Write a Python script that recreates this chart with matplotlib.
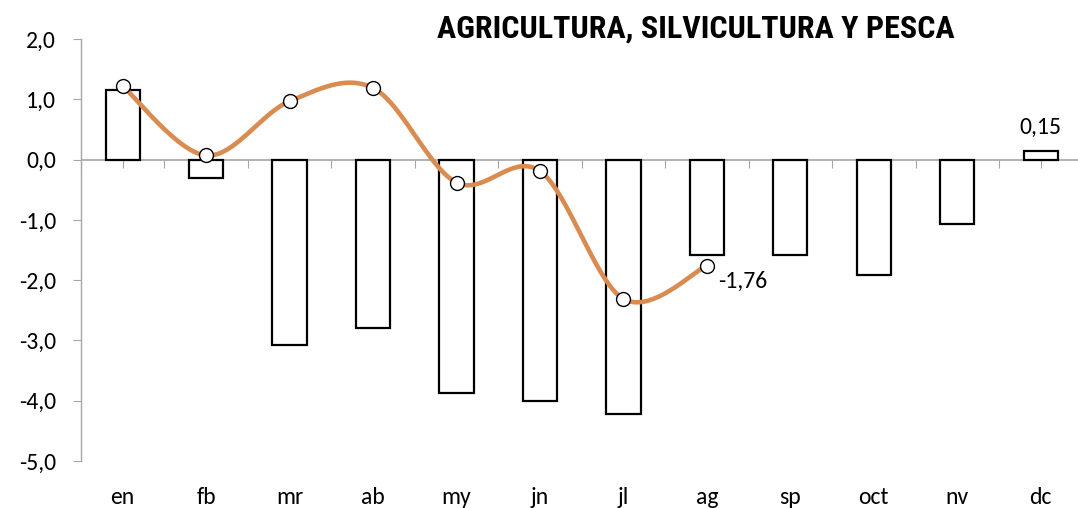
import numpy as np
import matplotlib
matplotlib.use("Agg")
import matplotlib.pyplot as plt
from matplotlib.ticker import FuncFormatter

months = ["en", "fb", "mr", "ab", "my", "jn", "jl", "ag", "sp", "oct", "nv", "dc"]
bar_values = [1.15, -0.31, -3.07, -2.79, -3.87, -4.00, -4.22, -1.59, -1.58, -1.91, -1.06, 0.15]
line_values = [1.22, 0.07, 0.97, 1.19, -0.38, -0.19, -2.31, -1.76]
title = "AGRICULTURA, SILVICULTURA Y PESCA"

ORANGE = "#D98B50"
GRAY = "#A6A6A6"
FS = 17

plt.rcParams['font.family'] = ['Carlito', 'Lato', 'DejaVu Sans']

fig = plt.figure(figsize=(10.78, 5.08), dpi=100)
ax = fig.add_axes([0.0751, 0.0925, 0.929, 0.8305])

x = np.arange(len(months))
ax.bar(x, bar_values, width=0.41, facecolor="white", edgecolor="black", linewidth=1.6, zorder=2)

# Excel-like smoothed line (Bezier through points, computed in screen-like space)
lx = np.arange(len(line_values), dtype=float)
ly = np.array(line_values, dtype=float)
sx, sy = 83.4, 60.3
P = np.column_stack([lx * sx, ly * sy])
curve = []
n = len(P)
for i in range(n - 1):
    p0 = P[i - 1] if i > 0 else P[i]
    p1 = P[i]
    p2 = P[i + 1]
    p3 = P[i + 2] if i + 2 < n else P[i + 1]
    c1 = p1 + (p2 - p0) / 6.0
    c2 = p2 - (p3 - p1) / 6.0
    t = np.linspace(0, 1, 40)[:, None]
    seg = (1 - t) ** 3 * p1 + 3 * (1 - t) ** 2 * t * c1 + 3 * (1 - t) * t ** 2 * c2 + t ** 3 * p2
    curve.append(seg if i == 0 else seg[1:])
curve = np.vstack(curve)
ax.plot(curve[:, 0] / sx, curve[:, 1] / sy, color=ORANGE, linewidth=3.3, solid_capstyle='round', zorder=3)
ax.plot(lx, ly, linestyle='none', marker='o', markersize=10, markerfacecolor='white',
        markeredgecolor='black', markeredgewidth=1.0, zorder=4)

ax.set_xlim(-0.5, len(months) - 0.5)
ax.set_ylim(-5, 2)
ax.set_yticks(np.arange(-5, 2.01, 1.0))
ax.yaxis.set_major_formatter(FuncFormatter(lambda v, p: f"{v:.1f}".replace(".", ",")))
ax.tick_params(axis='y', direction='out', length=5.8, color=GRAY, labelsize=FS, pad=12)

ax.set_xticks(x)
ax.set_xticklabels(months)
ax.tick_params(axis='x', length=0, labelsize=FS, pad=19)

for s in ['top', 'right', 'bottom']:
    ax.spines[s].set_visible(False)
ax.spines['left'].set_color(GRAY)
ax.spines['left'].set_linewidth(1.0)

ax.axhline(0, color=GRAY, linewidth=1.2, zorder=1)
sec = ax.secondary_xaxis(5.0 / 7.0)
sec.set_xticks(np.arange(-0.5, len(months), 0.5))
sec.tick_params(axis='x', direction='in', length=5.8, color=GRAY, labelbottom=False, labeltop=False)
sec.spines['bottom'].set_visible(False)
sec.spines['top'].set_visible(False)

ax.annotate(f"{bar_values[-1]:.2f}".replace(".", ","), xy=(x[-1], bar_values[-1]),
            xytext=(0, 9), textcoords='offset points', ha='center', va='bottom', fontsize=FS)
ax.annotate(f"{line_values[-1]:.2f}".replace(".", ","), xy=(lx[-1], line_values[-1]),
            xytext=(8, -4), textcoords='offset points', ha='left', va='top', fontsize=FS)

fig.text(0.6456, 0.943, title, ha='center', va='center', fontsize=23, fontweight='bold',
         family=['Roboto Condensed', 'PT Sans Narrow', 'DejaVu Sans'])

fig.savefig("out.png", dpi=100)
